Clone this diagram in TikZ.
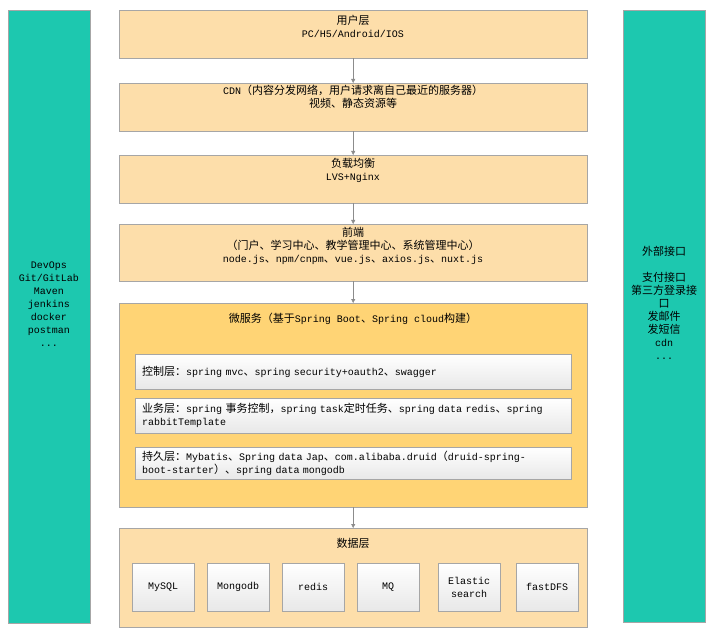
\documentclass[tikz,border=0pt]{standalone}
\usepackage{fontspec}
\setmainfont{Liberation Mono}
\newfontfamily\cjk[Scale=1.1]{Noto Sans CJK SC}
\newcommand{\zh}[1]{{\cjk #1}}
\usetikzlibrary{arrows.meta, shadows}
\definecolor{tealbar}{HTML}{1DC8AF}
\definecolor{layerfill}{HTML}{FDDEAA}
\definecolor{msfill}{HTML}{FFD475}
\definecolor{edgegray}{HTML}{A6A6A6}
\tikzset{
	sidebar/.style={draw=edgegray, fill=tealbar, anchor=north west, minimum width=82pt, minimum height=613pt, inner sep=0pt},
	layer/.style={draw=edgegray, fill=layerfill, anchor=north west, minimum width=468pt, inner sep=0pt},
	layertxt/.style={anchor=north, align=center, inner sep=0pt},
	subbox/.style={draw=edgegray, top color=white, bottom color=black!9, anchor=north west, text width=422pt, inner xsep=7pt, inner ysep=0pt, align=left, drop shadow={shadow xshift=1pt, shadow yshift=-1pt, opacity=0.2}},
	dbbox/.style={draw=edgegray, top color=white, bottom color=black!9, anchor=north west, minimum width=62pt, minimum height=48pt, inner sep=0pt, align=center, drop shadow={shadow xshift=1pt, shadow yshift=-1pt, opacity=0.2}},
	flow/.style={draw=black!45, -{Triangle[length=4pt, width=4pt]}}
}

\begin{document}
\begin{tikzpicture}[x=1pt, y=-1pt, every node/.style={font=\fontsize{10}{13}\selectfont}]
	\path[use as bounding box, fill=white] (0,0) rectangle (720,631);
	\node[sidebar] (devops) at (8,10) {};							%left bar
	\node[sidebar, minimum height=612pt] (ext) at (623,10) {};		%right bar
	\node[align=center, inner sep=0pt] (devtxt) at (49,304) {DevOps\\Git/GitLab\\Maven\\jenkins\\docker\\postman\\...};
	\node[align=center, inner sep=0pt] (exttxt) at (664,303) {\zh{外部接口}\\[13pt]\zh{支付接口}\\\zh{第三方登录接}\\\zh{口}\\\zh{发邮件}\\\zh{发短信}\\cdn\\...};

	\node[layer, minimum height=48pt] (usr) at (119,10) {};			%user layer
	\node[layertxt] (usrtxt) at (353,15) {\zh{用户层}\\PC/H5/Android/IOS};
	\node[layer, minimum height=48pt] (cdn) at (119,83) {};			%cdn
	\node[layertxt] (cdntxt) at (353,85) {CDN\zh{（内容分发网络，用户请求离自己最近的服务器）}\\\zh{视频、静态资源等}};
	\node[layer, minimum height=48pt] (lb) at (119,155) {};			%load balance
	\node[layertxt] (lbtxt) at (353,158) {\zh{负载均衡}\\LVS+Nginx};
	\node[layer, minimum height=57pt] (web) at (119,224) {};			%front end
	\node[layertxt] (webtxt) at (353,227) {\zh{前端}\\\zh{（门户、学习中心、教学管理中心、系统管理中心）}\\node.js\zh{、}npm/cnpm\zh{、}vue.js\zh{、}axios.js\zh{、}nuxt.js};
	\node[layer, fill=msfill, minimum height=204pt] (ms) at (119,303) {};	%micro services
	\node[layertxt] (mstxt) at (353,313) {\zh{微服务（基于}Spring Boot\zh{、}Spring cloud\zh{构建）}};
	\node[layer, minimum height=99pt] (data) at (119,528) {};		%data layer
	\node[layertxt] (datatxt) at (353,538) {\zh{数据层}};

	\node[subbox, minimum height=35pt] (ctrl) at (135,354) {\zh{控制层：}spring mvc\zh{、}spring security+oauth2\zh{、}swagger};
	\node[subbox, minimum height=35pt] (svc) at (135,398) {\zh{业务层：}spring \zh{事务控制，}spring task\zh{定时任务、}spring data redis\zh{、}spring\\rabbitTemplate};
	\node[subbox, minimum height=32pt] (dao) at (135,447) {\zh{持久层：}Mybatis\zh{、}Spring data Jap\zh{、}com.alibaba.druid\zh{（}druid-spring-\\boot-starter\zh{）、}spring data mongodb};

	\node[dbbox] (mysql) at (132,563) {MySQL};
	\node[dbbox] (mongo) at (207,563) {Mongodb};
	\node[dbbox] (redis) at (282,563) {redis};
	\node[dbbox] (mq) at (357,563) {MQ};
	\node[dbbox] (es) at (438,563) {Elastic\\search};
	\node[dbbox] (fdfs) at (516,563) {fastDFS};

	\draw[flow] (usr) -- (cdn);
	\draw[flow] (cdn) -- (lb);
	\draw[flow] (lb) -- (web);
	\draw[flow] (web) -- (ms);
	\draw[flow] (ms) -- (data);
\end{tikzpicture}
\end{document}
